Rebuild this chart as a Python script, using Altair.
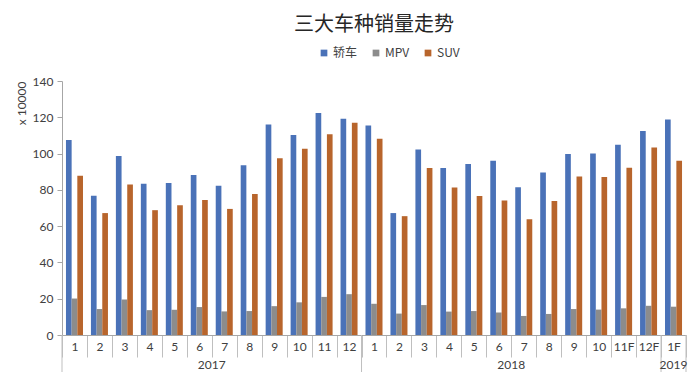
import altair as alt
import pandas as pd

# ---- data ----
years = ["2017"] * 12 + ["2018"] * 12 + ["2019"]
months = ["1", "2", "3", "4", "5", "6", "7", "8", "9", "10", "11", "12",
          "1", "2", "3", "4", "5", "6", "7", "8", "9", "10", "11F", "12F",
          "1F"]
sedan = [107.5, 76.8, 98.6, 83.4, 83.8, 88.2, 82.2, 93.6, 116.0, 110.2, 122.3, 119.2,
         115.5, 67.2, 102.3, 92.0, 94.3, 96.0, 81.4, 89.5, 99.7, 100.1, 104.9, 112.4,
         118.8]
mpv = [20.1, 14.3, 19.6, 13.7, 13.9, 15.4, 13.0, 13.2, 15.9, 18.0, 21.0, 22.5,
       17.2, 11.8, 16.5, 12.9, 13.2, 12.4, 10.5, 11.6, 14.3, 14.0, 14.7, 16.1,
       15.6]
suv = [87.8, 67.2, 82.9, 68.8, 71.5, 74.4, 69.5, 77.7, 97.4, 102.6, 110.7, 117.0,
       108.2, 65.5, 92.1, 81.3, 76.6, 74.2, 63.8, 73.9, 87.4, 87.1, 92.2, 103.3,
       96.1]
series_names = ["轿车", "MPV", "SUV"]
series_colors = ["#4A72B8", "#8C8C8C", "#B8652C"]
y_ticks = [0, 20, 40, 60, 80, 100, 120, 140]
year_labels = ["2017", "2018", "2019"]

keys = [f"{y}-{m}" for y, m in zip(years, months)]

rows = []
for i, k in enumerate(keys):
    for s, vals in zip(series_names, [sedan, mpv, suv]):
        rows.append({"key": k, "series": s, "value": vals[i]})
df = pd.DataFrame(rows)

W, H = 624, 254
CJK = "Noto Sans CJK SC"
NUM = "Lato"
AXIS_GRAY = "#A6A6A6"
LABEL = "#404040"

xscale = alt.Scale(domain=keys, paddingInner=0, paddingOuter=0)

bars = alt.Chart(df).mark_bar().encode(
    x=alt.X("key:N", sort=keys, scale=xscale,
            axis=alt.Axis(title=None, labelExpr="split(datum.value, '-')[1]",
                          labelAngle=0, tickBand="extent", tickSize=22,
                          labelPadding=-16, labelFont=NUM, labelFontSize=12,
                          labelColor=LABEL, domainColor=AXIS_GRAY,
                          tickColor="#BFBFBF", labelBaseline="top")),
    xOffset=alt.XOffset("series:N", sort=series_names,
                        scale=alt.Scale(domain=series_names, paddingInner=0,
                                        paddingOuter=0.7)),
    y=alt.Y("value:Q", scale=alt.Scale(domain=[0, 140]),
            axis=alt.Axis(values=y_ticks, grid=False, title="x 10000",
                          titleFont=NUM, titleFontSize=12, titleFontWeight="normal",
                          titleColor=LABEL, titleAngle=270, titleX=-41, titleY=0,
                          titleAlign="right", titleBaseline="middle",
                          labelFont=NUM, labelFontSize=12, labelColor=LABEL,
                          labelPadding=4, tickSize=5, tickColor=AXIS_GRAY,
                          domainColor=AXIS_GRAY)),
    color=alt.Color("series:N", sort=series_names,
                    scale=alt.Scale(domain=series_names, range=series_colors),
                    legend=alt.Legend(title=None, orient="none", direction="horizontal",
                                      legendX=256, legendY=-34,
                                      labelFont=CJK, labelFontSize=12,
                                      labelColor=LABEL, symbolType="square",
                                      symbolSize=45, symbolStrokeWidth=0,
                                      columnPadding=12, labelOffset=3)),
)

sep_df = pd.DataFrame({"key": ["2017-1", "2018-1", "2019-1F"]})
seps = alt.Chart(sep_df).mark_rule(color="#BFBFBF", strokeWidth=1).encode(
    x=alt.X("key:N", sort=keys, scale=xscale, bandPosition=0, title=None),
    y=alt.value(H), y2=alt.value(H + 40),
)
end_df = pd.DataFrame({"key": ["2019-1F"]})
end_sep = alt.Chart(end_df).mark_rule(color="#BFBFBF", strokeWidth=1).encode(
    x=alt.X("key:N", sort=keys, scale=xscale, bandPosition=1, title=None),
    y=alt.value(H), y2=alt.value(H + 40),
)

yr_df = pd.DataFrame({"key": ["2017-7", "2018-7"], "label": year_labels[:2]})
yr_text = alt.Chart(yr_df).mark_text(font=NUM, fontSize=12, color=LABEL,
                                     baseline="middle").encode(
    x=alt.X("key:N", sort=keys, scale=xscale, bandPosition=0, title=None),
    y=alt.value(H + 30),
    text="label:N",
)
yr2_df = pd.DataFrame({"key": ["2019-1F"], "label": year_labels[2:]})
yr2_text = alt.Chart(yr2_df).mark_text(font=NUM, fontSize=12, color=LABEL,
                                       baseline="middle").encode(
    x=alt.X("key:N", sort=keys, scale=xscale, bandPosition=0.5, title=None),
    y=alt.value(H + 30),
    text="label:N",
)

chart = alt.layer(bars, seps, end_sep, yr_text, yr2_text).properties(
    width=W, height=H,
    autosize=alt.AutoSizeParams(type="none"),
    padding={"left": 54, "top": 73, "right": 6, "bottom": 37},
    title=alt.TitleParams("三大车种销量走势", font=CJK, fontSize=20,
                          fontWeight="normal", color="#262626",
                          anchor="middle", offset=12),
).configure_view(stroke=None)

chart.save("out.html", embed_options={"renderer": "svg", "actions": False})
